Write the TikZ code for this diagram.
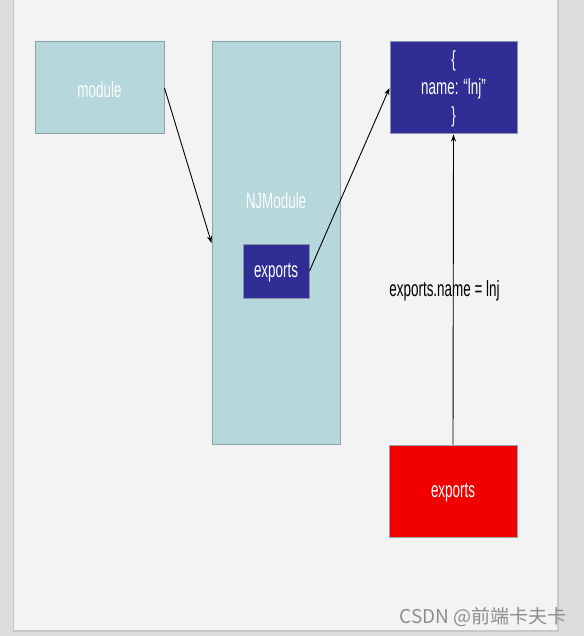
\documentclass[tikz,border=0pt]{standalone}
\usepackage{fontspec}
\setmainfont{Liberation Sans}
\newfontfamily\narrow[FakeStretch=0.61]{Liberation Sans}
\newfontfamily\cjk{Noto Sans CJK SC}
\usetikzlibrary{arrows.meta}
\definecolor{outerbg}{HTML}{DCDCDF}
\definecolor{slidebg}{HTML}{F3F3F3}
\definecolor{slideshadow}{HTML}{C8C8CA}
\definecolor{teal}{HTML}{B6D7DB}
\definecolor{tealedge}{HTML}{8AA2A8}
\definecolor{navy}{HTML}{302E94}
\definecolor{navyedge}{HTML}{8593AC}
\definecolor{redfill}{HTML}{F20000}
\definecolor{rededge}{HTML}{9AA3AA}
\definecolor{wm}{HTML}{8E8E8E}
\tikzset{
  txt/.style={font=\narrow\fontsize{22}{28}\selectfont},
  box/.style={draw, line width=1pt, rectangle, inner sep=0pt, txt, text=white, align=center},
  lightbox/.style={box, fill=teal, draw=tealedge, text=white!96!teal},
  darkbox/.style={box, fill=navy, draw=navyedge},
  redbox/.style={box, fill=redfill, draw=rededge},
  arr/.style={draw=black, line width=0.9pt, -{Stealth[length=7pt,width=5pt]}},
}
\begin{document}
\begin{tikzpicture}[x=1pt,y=-1pt]
\useasboundingbox (0,0) rectangle (584,636);
\fill[outerbg] (0,0) rectangle (584,636);
\fill[slideshadow] (13,0) rectangle (559,632);
\fill[slidebg] (14,0) rectangle (557,630);

\node[lightbox, minimum width=129pt, minimum height=92pt] (module) at (99.5,88) {};
\node[txt, text=white!96!teal, inner sep=0pt] (modlabel) at (99.5,90) {module};
\node[lightbox, minimum width=128pt, minimum height=402pt] (njm) at (276,243) {};
\node[txt, text=white!96!teal, inner sep=0pt] (njmlabel) at (276,201) {NJModule};
\node[darkbox, minimum width=66pt, minimum height=54pt] (exin) at (276,271) {};
\node[txt, text=white, inner sep=0pt] (exinlabel) at (276,273) {exports};
\node[darkbox, minimum width=127pt, minimum height=92pt] (obj) at (453.5,88) {};
\node[txt, text=white, inner sep=0pt, align=center] (objlabel) at (453.5,89) {\{\\name: “lnj”\\\}};
\node[redbox, minimum width=128pt, minimum height=92pt] (red) at (453,491) {};
\node[txt, text=white, inner sep=0pt] (redlabel) at (453,493) {exports};

\draw[arr] (module.east) -- (njm.west);
\draw[arr] (exin.east) -- (obj.west);
\draw[arr] (red.north) -- (obj.south);

\node[txt, text=black, inner sep=0pt] (lbl) at (444.5,291) {exports.name = lnj};
\node[font=\cjk\fontsize{19}{22}\selectfont, text=wm, inner sep=0pt] (wmark) at (483,617) {CSDN @前端卡夫卡};
\end{tikzpicture}
\end{document}
